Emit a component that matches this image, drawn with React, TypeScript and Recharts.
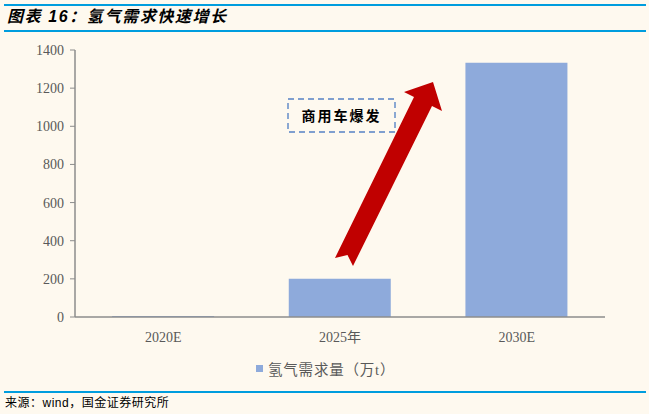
import React from "react";
import { BarChart, Bar, XAxis, YAxis, Legend } from "recharts";

const categories = ["2020E", "2025年", "2030E"];
const demand = [5, 200, 1333];
const yTicks = [0, 200, 400, 600, 800, 1000, 1200, 1400];
const seriesName = "氢气需求量（万t）";
const titleText = "图表 16：氢气需求快速增长";
const sourceText = "来源：wind，国金证券研究所";
const annotationText = "商用车爆发";

const data = categories.map((c, i) => ({ name: c, value: demand[i] }));

const BG = "#FEF9EF";
const BLUE_LINE = "#009DDE";
const BAR = "#8EAADB";
const SERIF = '"Liberation Serif", "Times New Roman", "Noto Sans CJK SC", serif';
const CJK = '"Liberation Sans", "Noto Sans CJK SC", sans-serif';

const LegendContent = () => (
  <div style={{ display: "flex", alignItems: "center", fontFamily: SERIF, fontSize: 14.5, color: "#595959", letterSpacing: 0.8, whiteSpace: "nowrap" }}>
    <span style={{ display: "inline-block", width: 7, height: 7, background: BAR, marginRight: 5 }} />
    <span>{seriesName}</span>
  </div>
);

export default function App() {
  return (
    <div style={{ position: "absolute", left: 0, top: 0, width: 649, height: 414, background: BG, overflow: "hidden" }}>
      <div style={{ position: "absolute", left: 4, top: 4, width: 642, height: 2, background: BLUE_LINE }} />
      <div style={{ position: "absolute", left: 4, top: 30, width: 642, height: 2, background: BLUE_LINE }} />
      <div style={{ position: "absolute", left: 7, top: 7, fontFamily: CJK, fontSize: 16, fontWeight: 700, fontStyle: "italic", color: "#000", letterSpacing: 1.6, lineHeight: "20px", whiteSpace: "nowrap" }}>
        {titleText}
      </div>
      <BarChart
        width={649}
        height={390}
        data={data}
        margin={{ top: 50, right: 44, bottom: 43, left: 0 }}
        barCategoryGap="21%"
        style={{ position: "absolute", left: 0, top: 0 }}
      >
        <XAxis
          dataKey="name"
          tickLine={false}
          axisLine={{ stroke: "#8C8C8C", strokeWidth: 1.5 }}
          tick={{ fill: "#595959", fontSize: 14, fontFamily: SERIF }}
          tickMargin={9}
          height={30}
        />
        <YAxis
          domain={[0, 1400]}
          ticks={yTicks}
          width={75}
          axisLine={{ stroke: "#8C8C8C", strokeWidth: 1.5 }}
          tickLine={{ stroke: "#8C8C8C" }}
          tickSize={5}
          tickMargin={6}
          tick={{ fill: "#595959", fontSize: 14, fontFamily: SERIF }}
        />
        <Legend
          layout="horizontal"
          verticalAlign="middle"
          align="center"
          wrapperStyle={{ position: "absolute", top: 358, left: 256, width: 220 }}
          content={<LegendContent />}
        />
        <Bar dataKey="value" name={seriesName} fill={BAR} isAnimationActive={false} />
      </BarChart>
      <svg width={649} height={414} style={{ position: "absolute", left: 0, top: 0, pointerEvents: "none" }}>
        <polygon
          points="335,258 414,97 404,92 433,82 442,111 432,106 353,266 347.5,255"
          fill="#C00000"
        />
        <rect x={288} y={99} width={107} height={33} fill="none" stroke="#7F9FCF" strokeWidth={1.8} strokeDasharray="6 4" />
        <text x={341.5} y={121} textAnchor="middle" fontFamily={CJK} fontSize={14} fontWeight={700} letterSpacing={2} fill="#000">
          {annotationText}
        </text>
      </svg>
      <div style={{ position: "absolute", left: 4, top: 391, width: 642, height: 2, background: BLUE_LINE }} />
      <div style={{ position: "absolute", left: 5, top: 396, fontFamily: CJK, fontSize: 12, color: "#000", whiteSpace: "nowrap", lineHeight: "15px", letterSpacing: 0.5 }}>
        {sourceText}
      </div>
    </div>
  );
}
